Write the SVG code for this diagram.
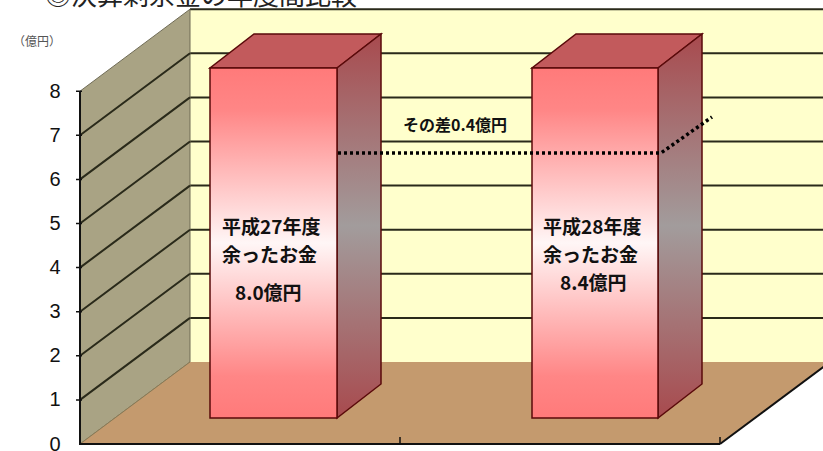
<svg xmlns="http://www.w3.org/2000/svg" width="823" height="451" viewBox="0 0 823 451">
<defs>
<linearGradient id="front" x1="0" y1="0" x2="0" y2="1">
<stop offset="0" stop-color="#ff7a7a"/>
<stop offset="0.12" stop-color="#ff8686"/>
<stop offset="0.5" stop-color="#fff6f6"/>
<stop offset="0.88" stop-color="#ff8686"/>
<stop offset="1" stop-color="#ff7a7a"/>
</linearGradient>
<linearGradient id="side" x1="0" y1="0" x2="0" y2="1">
<stop offset="0" stop-color="#a84a4e"/>
<stop offset="0.5" stop-color="#a29c9c"/>
<stop offset="1" stop-color="#a84a4e"/>
</linearGradient>
<style>
.wallL{fill:#a9a384;stroke:#6f6b55;stroke-width:1}
.wallB{fill:#ffffcc}
.floor{fill:#c49a6e}
.grid{stroke:#2a2a1a;stroke-width:2;fill:none}
.axis{stroke:#111;stroke-width:2;fill:none}
.front{fill:url(#front);stroke:#5a0a0a;stroke-width:1.5}
.side{fill:url(#side);stroke:#5a0a0a;stroke-width:1.5}
.top{fill:#c25a5c;stroke:#5a0a0a;stroke-width:1.5}
.num{font-family:"Liberation Sans",Arial,sans-serif;font-size:20px;fill:#111;text-anchor:middle}
.lbl{font-family:"Noto Sans CJK JP","Noto Sans CJK SC",sans-serif;font-weight:bold;font-size:19px;fill:#111}
.diff{font-family:"Noto Sans CJK JP","Noto Sans CJK SC",sans-serif;font-weight:bold;font-size:16px;fill:#111}
.unit{font-family:"Noto Sans CJK JP","Noto Sans CJK SC",sans-serif;font-size:12px;fill:#555}
.title{font-family:"Noto Sans CJK JP","Noto Sans CJK SC",sans-serif;font-size:26px;fill:#222}
.dot{stroke:#000;stroke-width:3.5;stroke-dasharray:3 3;fill:none}
</style>
</defs>
<rect width="823" height="451" fill="#ffffff"/>
<text class="title" x="45" y="5">◎決算剰余金の年度間比較</text>

<g id="back-wall">
<rect class="wallB" x="190" y="9" width="640" height="353"/>
<path class="grid" d="M190 9.2H823M190 53.3H823M190 97.4H823M190 141.5H823M190 185.6H823M190 229.7H823M190 273.8H823M190 317.9H823"/>
</g>

<g id="left-wall">
<polygon class="wallL" points="80,91.2 190,9.2 190,362 80,444"/>
<path class="grid" d="M80 399.9L190 317.9M80 355.8L190 273.8M80 311.7L190 229.7M80 267.6L190 185.6M80 223.5L190 141.5M80 179.4L190 97.4M80 135.3L190 53.3"/>
</g>

<g id="floor">
<polygon class="floor" points="80,444 190,362 830,362 720,444"/>
<line x1="80" y1="444" x2="190" y2="362" stroke="#8a7a55" stroke-width="1"/>
<line x1="720" y1="444" x2="830" y2="362" stroke="#111" stroke-width="2"/>
</g>

<g id="axes">
<path class="axis" d="M80 91.2V444H720"/>
<path stroke="#111" stroke-width="1.5" d="M76 91.2H82M76 135.3H82M76 179.4H82M76 223.5H82M76 267.6H82M76 311.7H82M76 355.8H82M76 399.9H82M400 437V444M720 437V444"/>
</g>

<g id="y-labels">
<text class="unit" x="13" y="46">（億円）</text>
<text class="num" x="55" y="98">8</text>
<text class="num" x="55" y="142">7</text>
<text class="num" x="55" y="186">6</text>
<text class="num" x="55" y="230">5</text>
<text class="num" x="55" y="274">4</text>
<text class="num" x="55" y="318">3</text>
<text class="num" x="55" y="362">2</text>
<text class="num" x="55" y="406">1</text>
<text class="num" x="55" y="451">0</text>
</g>

<g id="bar-h27">
<polygon class="top" points="210,68 337,68 381,34 254,34"/>
<polygon class="side" points="337,68 381,34 381,384 337,418"/>
<rect class="front" x="210" y="68" width="127" height="350"/>
<text class="lbl" x="222" y="234">平成27年度</text>
<text class="lbl" x="222" y="262">余ったお金</text>
<text class="lbl" x="235" y="300">8.0億円</text>
</g>

<g id="bar-h28">
<polygon class="top" points="532,68 658,68 702,34 576,34"/>
<polygon class="side" points="658,68 702,34 702,384 658,418"/>
<rect class="front" x="532" y="68" width="126" height="350"/>
<text class="lbl" x="543" y="234">平成28年度</text>
<text class="lbl" x="543" y="262">余ったお金</text>
<text class="lbl" x="560" y="290">8.4億円</text>
</g>

<g id="connectors">
<polyline class="dot" points="338,153 661,153 712,117"/>
</g>

<g id="diff-label">
<text class="diff" x="403" y="131">その差0.4億円</text>
</g>
</svg>
